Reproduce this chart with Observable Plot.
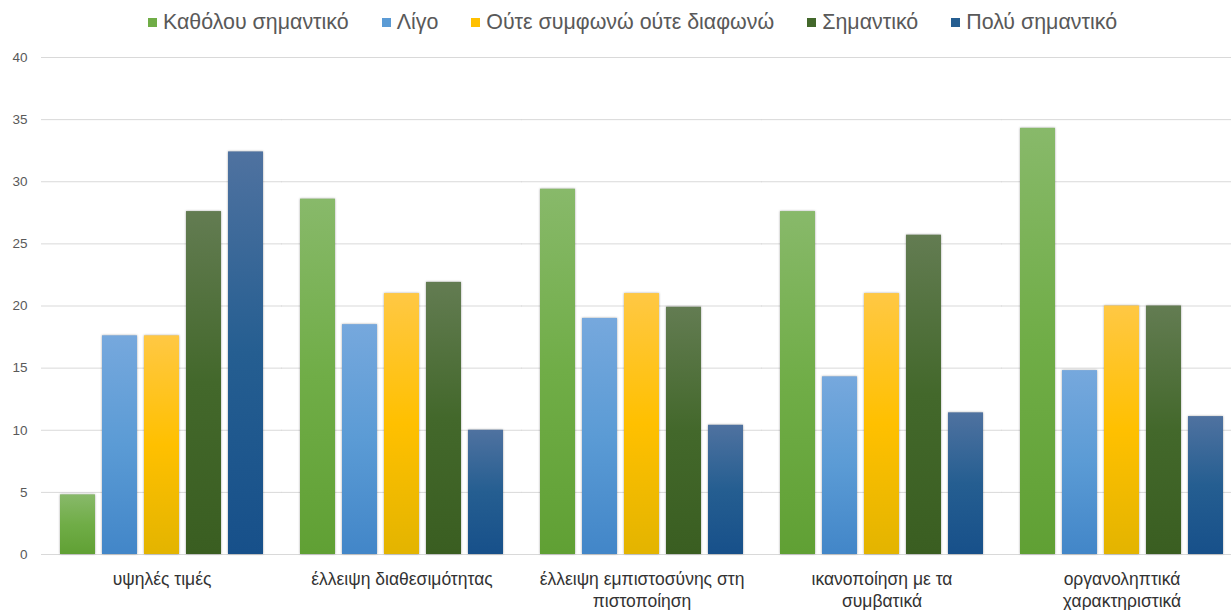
<!DOCTYPE html>
<html>
<head>
<meta charset="utf-8">
<script src="https://cdn.jsdelivr.net/npm/d3@7"></script>
<script src="https://cdn.jsdelivr.net/npm/@observablehq/plot@0.6"></script>
<style>
  html, body { margin: 0; padding: 0; background: #fff; overflow: hidden; }
  #legend {
    height: 44px; display: flex; justify-content: center; align-items: center;
    gap: 33px; padding-left: 34px; box-sizing: border-box; width: 1231px;
    font-family: "Liberation Sans", Arial, sans-serif; font-size: 21.4px; color: #595959;
  }
  #legend .item { display: flex; align-items: center; white-space: nowrap; }
  #legend .sw { width: 9px; height: 9px; margin-right: 6px; display: inline-block; }
  #chart { width: 1231px; overflow: hidden; }
  #chart svg { max-width: none !important; display: block; }
  #chart svg g[aria-label="bar"] rect { filter: drop-shadow(0.5px 0.5px 1.2px rgba(0,0,0,0.35)); }
</style>
</head>
<body>
<div id="legend"></div>
<div id="chart"></div>
<script>
// Reasons (groups along the x axis) and their tick labels
const categories = [
  "υψηλές τιμές",
  "έλλειψη διαθεσιμότητας",
  "έλλειψη εμπιστοσύνης στη πιστοποίηση",
  "ικανοποίηση με τα συμβατικά",
  "οργανοληπτικά χαρακτηριστικά"
];
const categoryLabels = [
  "υψηλές τιμές",
  "έλλειψη διαθεσιμότητας",
  "έλλειψη εμπιστοσύνης στη\nπιστοποίηση",
  "ικανοποίηση με τα\nσυμβατικά",
  "οργανοληπτικά\nχαρακτηριστικά"
];

// Answer scale (series)
const series = ["Καθόλου σημαντικό", "Λίγο", "Ούτε συμφωνώ ούτε διαφωνώ", "Σημαντικό", "Πολύ σημαντικό"];

// Percentages per series, one value per reason
const katholouSimantiko = [4.8, 28.6, 29.4, 27.6, 34.3];
const ligo              = [17.6, 18.5, 19.0, 14.3, 14.8];
const outeOute          = [17.6, 21.0, 21.0, 21.0, 20.0];
const simantiko         = [27.6, 21.9, 19.9, 25.7, 20.0];
const polySimantiko     = [32.4, 10.0, 10.4, 11.4, 11.1];
const seriesValues = [katholouSimantiko, ligo, outeOute, simantiko, polySimantiko];

const yTicks = [0, 5, 10, 15, 20, 25, 30, 35, 40];

// Fill colours: base colour plus the lighter top / darker bottom of each bar's gradient
const baseColors  = ["#70ad47", "#5b9bd5", "#ffc000", "#43682b", "#255e91"];
const lightColors = ["#88b96a", "#76a8dd", "#ffc844", "#637c52", "#4f72a0"];
const darkColors  = ["#60a034", "#4286c8", "#e3b400", "#3a5e21", "#17508a"];

// Legend
const legend = document.getElementById("legend");
series.forEach((s, i) => {
  const item = document.createElement("span");
  item.className = "item";
  const sw = document.createElement("span");
  sw.className = "sw";
  sw.style.background = baseColors[i];
  item.appendChild(sw);
  item.appendChild(document.createTextNode(s));
  legend.appendChild(item);
});

const data = series.flatMap((s, i) =>
  categories.map((c, j) => ({category: c, series: s, value: seriesValues[i][j]}))
);

const gradIds = series.map((_, i) => `bar-grad-${i}`);

const chart = Plot.plot({
  width: 1243,
  height: 566,
  marginLeft: 40,
  marginRight: 1,
  marginTop: 13,
  marginBottom: 56,
  style: {fontFamily: "'Liberation Sans', Arial, sans-serif", background: "#fff"},
  fx: {domain: categories, paddingInner: 0.139, paddingOuter: 0.0695, label: null, axis: null},
  x: {domain: series, paddingInner: 0.175, paddingOuter: 0, axis: null},
  y: {domain: [0, 40], label: null},
  color: {type: "ordinal", domain: series, range: gradIds.map(id => `url(#${id})`)},
  marks: [
    // grid lines, stretched over the gaps between groups so they read as continuous
    Plot.ruleY(yTicks, {stroke: "#d9d9d9", strokeWidth: 1, insetLeft: -17, insetRight: -17}),
    // the y axis sits in the first group's cell, so its padding also spans the outer gap
    Plot.axisY(yTicks, {tickSize: 0, tickPadding: 31, fontSize: 13.5, fill: "#595959", label: null}),
    Plot.axisFx({
      anchor: "bottom",
      tickSize: 0, tickPadding: 15, fontSize: 17.5, fill: "#333333", label: null,
      lineHeight: 1.25,
      tickFormat: c => categoryLabels[categories.indexOf(c)]
    }),
    Plot.barY(data, {fx: "category", x: "series", y: "value", fill: "series"})
  ]
});

// Vertical gradients for the bars (light at the top, darker at the bottom)
const ns = "http://www.w3.org/2000/svg";
const defs = document.createElementNS(ns, "defs");
gradIds.forEach((id, i) => {
  const g = document.createElementNS(ns, "linearGradient");
  g.setAttribute("id", id);
  g.setAttribute("x1", "0"); g.setAttribute("y1", "0");
  g.setAttribute("x2", "0"); g.setAttribute("y2", "1");
  [[0, lightColors[i]], [0.5, baseColors[i]], [1, darkColors[i]]].forEach(([o, c]) => {
    const st = document.createElementNS(ns, "stop");
    st.setAttribute("offset", o);
    st.setAttribute("stop-color", c);
    g.appendChild(st);
  });
  defs.appendChild(g);
});
chart.insertBefore(defs, chart.firstChild);

document.getElementById("chart").appendChild(chart);
</script>
</body>
</html>
